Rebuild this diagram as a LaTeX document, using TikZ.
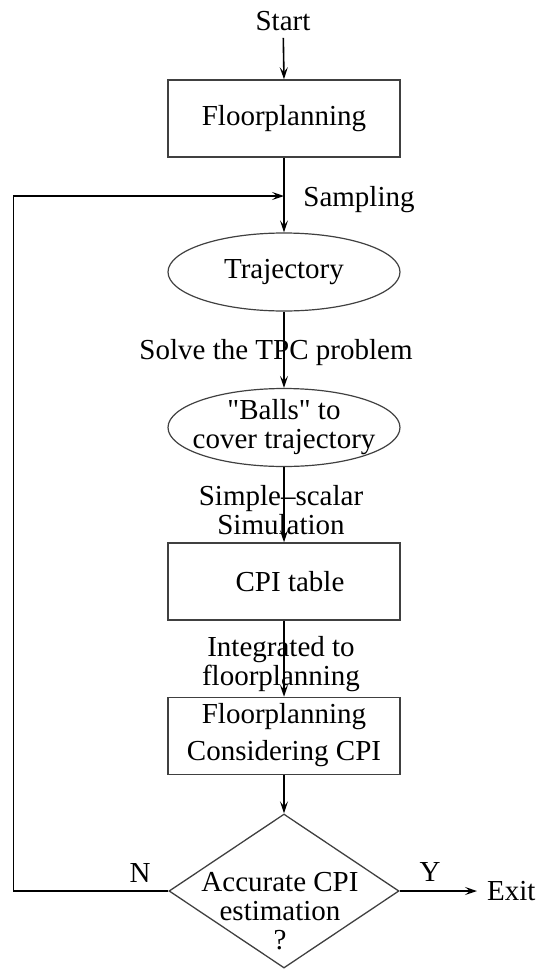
\documentclass[tikz,border=0pt]{standalone}
\usepackage{fontspec}
\setmainfont{Liberation Serif}
% same face without the TeX input mapping, for straight quotes
\newfontfamily\qfont{Liberation Serif}
\usetikzlibrary{shapes.geometric,arrows.meta}
\begin{document}
\begin{tikzpicture}[x=1pt,y=-1pt,
  every node/.style={font=\fontsize{29}{29}\selectfont, inner sep=0pt, align=center},
  stepbox/.style={draw=black!75, line width=1.5pt, minimum width=232pt, minimum height=77pt},
  oval/.style={ellipse, draw=black!75, line width=1.2pt, inner xsep=-20pt, inner ysep=-12pt,
    minimum width=232pt, minimum height=78pt},
  flow/.style={line width=1.6pt, -{Stealth[length=12pt,width=8pt,inset=5pt]}},
  lbl/.style={}]
  \useasboundingbox (0,0) rectangle (539,969);

  % process chain
  \node (start) at (283,21) {Start};
  \node[stepbox] (fp) at (284,118.5) {Floorplanning};
  \coordinate (merge) at (284,196);
  \node[oval] (traj) at (284,272) {\raisebox{-3pt}{Trajectory}};
  \node[oval] (balls) at (284,427.5) {{\qfont"}Balls{\qfont"} to\\cover trajectory};
  \node[stepbox] (cpi) at (284,581.5) {\hspace*{12pt}CPI table};
  \node[stepbox] (fpc) at (284,736) {\raisebox{-3pt}{\begin{tabular}{@{}c@{}}Floorplanning\\[8pt]Considering CPI\end{tabular}}};
  \node[diamond, draw=black!75, line width=1.3pt, minimum width=230pt, minimum height=154pt, aspect=1.5] (dec) at (284,891) {};
  \node (dectext) at (280,911) {Accurate CPI\\estimation\\?};
  \node[anchor=west] (exit) at (487,891) {Exit};

  % connectors
  \draw[flow, shorten <=7pt] (start) -- (fp.north);
  \draw[line width=1.6pt] (fp.south) -- (merge);
  \draw[flow] (merge) -- (traj.north);
  \draw[flow] (traj.south) -- (balls.north);
  \draw[flow] (balls.south) -- (cpi.north);
  \draw[flow] (cpi.south) -- (fpc.north);
  \draw[flow] (fpc.south) -- (dec.north);
  \draw[flow] (dec.west) -- ++(-155,0) |- (merge);
  \draw[flow, shorten >=10pt] (dec.east) -- (exit.west);

  % connector labels
  \node[lbl] (samp) at (359,200) {Sampling};
  \node[lbl] (tpc) at (276,353) {Solve the TPC problem};
  \node[lbl] (sim) at (281,510) {Simple--scalar\\Simulation};
  \node[lbl] (integ) at (281,664) {Integrated to\\floorplanning};
  \node[lbl] (no) at (140,873) {N};
  \node[lbl] (yes) at (430,872) {Y};
\end{tikzpicture}
\end{document}
